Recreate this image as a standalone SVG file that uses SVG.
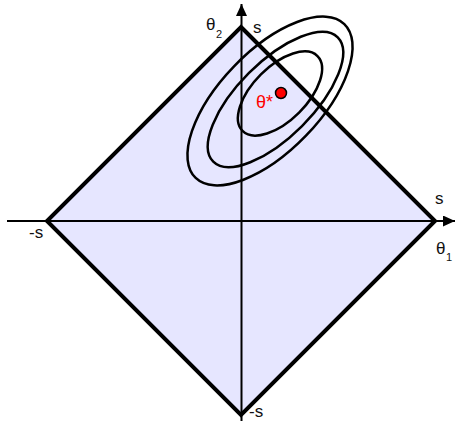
<svg xmlns="http://www.w3.org/2000/svg" width="455" height="421" viewBox="0 0 455 421">
<style>
.lbl{font-family:"Liberation Sans",Arial,sans-serif;font-size:17px;fill:#111}
.sub{font-family:"Liberation Sans",Arial,sans-serif;font-size:11px;fill:#111}
.ell{fill:none;stroke:#000;stroke-width:2.5}
.axis{stroke:#000;stroke-width:2;fill:none}
</style>
<defs>
<marker id="arr" viewBox="0 0 12 11" refX="12" refY="5.5" markerWidth="12" markerHeight="11" markerUnits="userSpaceOnUse" orient="auto">
<path d="M0,0 L12,5.5 L0,11 Z" fill="#000"/>
</marker>
</defs>
<g id="region">
<polygon points="241,27 435,221 241,415 47,221" fill="#e6e6ff" stroke="none"/>
</g>
<g id="connectors">
<line class="axis" x1="7" y1="221" x2="455" y2="221" marker-end="url(#arr)"/>
<line class="axis" x1="241.5" y1="421" x2="241.5" y2="4" marker-end="url(#arr)"/>
</g>
<g id="diamond">
<polygon points="241,27 435,221 241,415 47,221" fill="none" stroke="#000" stroke-width="4"/>
</g>
<g id="contours">
<ellipse class="ell" cx="270" cy="101" rx="107" ry="50" transform="rotate(-46 270 101)"/>
<ellipse class="ell" cx="275.5" cy="99.5" rx="88" ry="37.5" transform="rotate(-45 275.5 99.5)"/>
<ellipse class="ell" cx="280" cy="93.5" rx="53" ry="27" transform="rotate(-45 280 93.5)"/>
</g>
<g id="optimum">
<circle cx="281" cy="93" r="5.5" fill="#ff0000" stroke="#000" stroke-width="1.5"/>
<text x="256" y="108" font-family="Liberation Sans,Arial,sans-serif" font-size="18" fill="#ff0000">θ*</text>
</g>
<g id="labels">
<text class="lbl" x="206" y="30">θ</text>
<text class="sub" x="216" y="38">2</text>
<text class="lbl" x="253" y="33">s</text>
<text class="lbl" x="435" y="204">s</text>
<text class="lbl" x="436" y="254">θ</text>
<text class="sub" x="446" y="261">1</text>
<text class="lbl" x="29" y="238">-s</text>
<text class="lbl" x="249" y="417">-s</text>
</g>
</svg>
